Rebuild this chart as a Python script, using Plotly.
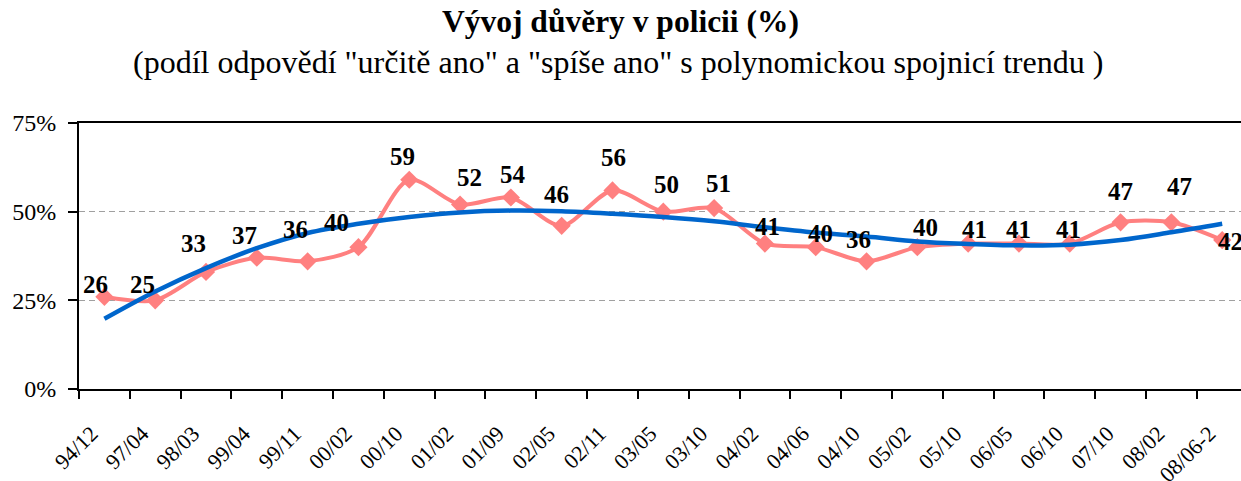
import plotly.graph_objects as go

categories = ["94/12", "97/04", "98/03", "99/04", "99/11", "00/02", "00/10", "01/02",
              "01/09", "02/05", "02/11", "03/05", "03/10", "04/02", "04/06", "04/10",
              "05/02", "05/10", "06/05", "06/10", "07/10", "08/02", "08/06-2"]
values = [26, 25, 33, 37, 36, 40, 59, 52, 54, 46, 56, 50, 51, 41, 40, 36, 40, 41, 41, 41, 47, 47, 42]
# polynomial trend line
trend = [19.8, 27.5, 34.1, 39.7, 44.0, 46.6, 48.5, 49.8, 50.3, 50.1, 49.4, 48.5,
         47.3, 45.6, 44.1, 43.0, 41.6, 40.9, 40.5, 40.7, 42.0, 44.2, 46.6]
y_ticks = [0, 25, 50, 75]
y_tick_text = ["0%", "25%", "50%", "75%"]

# label offsets in pixels (dx right, dy up)
label_dx = [-9, -13, -13, -12, -12, -22, -7, 9, 2, -5, 1, 3, 4, 3, 5, -8, 8, 6, 0, -1, 0, 8, 8]
label_dy = [12, 16, 28, 22, 32, 25, 23, 27, 23, 31, 33, 27, 25, 17, 14, 22, 20, 14, 14, 14, 31, 36, -1]

SERIF = "Liberation Serif"
W, H = 1241, 481
ML, MR, MT, MB = 79, 0, 123, 92
PLOT_W = W - ML - MR
PLOT_H = H - MT - MB

fig = go.Figure()
fig.add_trace(go.Scatter(
    x=categories, y=values, mode="lines+markers",
    line=dict(color="#FF8080", width=4, shape="spline", smoothing=0.8),
    marker=dict(symbol="diamond", size=14, color="#FF8080"),
    showlegend=False, hoverinfo="x+y"))
fig.add_trace(go.Scatter(
    x=categories, y=trend, mode="lines",
    line=dict(color="#0066CC", width=4.5, shape="spline", smoothing=1.0),
    showlegend=False, hoverinfo="skip"))

annotations = []
for c, v, dx, dy in zip(categories, values, label_dx, label_dy):
    annotations.append(dict(x=c, y=v, xref="x", yref="y", text="<b>%d</b>" % v, showarrow=False,
                            xshift=dx, yshift=dy,
                            font=dict(family=SERIF, size=25, color="black")))
annotations.append(dict(x=(620.5 - ML) / PLOT_W, y=1 + 121 / PLOT_H, xref="paper", yref="paper",
                        xanchor="center", yanchor="top", showarrow=False,
                        text="<b>Vývoj důvěry v policii (%)</b>",
                        font=dict(family=SERIF, size=31.5, color="black")))
annotations.append(dict(x=(618 - ML) / PLOT_W, y=1 + 81 / PLOT_H, xref="paper", yref="paper",
                        xanchor="center", yanchor="top", showarrow=False,
                        text="(podíl odpovědí \"určitě ano\" a \"spíše ano\" s polynomickou spojnicí trendu )",
                        font=dict(family=SERIF, size=32, color="black")))

fig.update_layout(
    width=W, height=H,
    margin=dict(l=ML, r=MR, t=MT, b=MB, autoexpand=False),
    paper_bgcolor="white", plot_bgcolor="white",
    annotations=annotations,
    font=dict(family=SERIF, color="black"),
)
fig.update_xaxes(
    type="category", categoryorder="array", categoryarray=categories,
    range=[-0.5, 22.37], tickangle=-45, tickson="boundaries", automargin=False,
    ticks="outside", ticklen=8, tickwidth=2, tickcolor="black",
    ticklabelstandoff=21, ticklabelshift=-13,
    showline=True, linewidth=2, linecolor="black", mirror=True,
    showgrid=False, tickfont=dict(family=SERIF, size=22, color="black"),
)
fig.update_yaxes(
    range=[0, 75], tickmode="array", tickvals=y_ticks, ticktext=y_tick_text, automargin=False,
    ticks="outside", ticklen=9, tickwidth=2, tickcolor="black", ticklabelstandoff=7,
    showline=True, linewidth=2, linecolor="black",
    showgrid=True, gridcolor="#A0A0A0", gridwidth=1, griddash="6px,4px",
    zeroline=False, tickfont=dict(family=SERIF, size=24, color="black"),
)
fig.write_html("out.html", config={"displayModeBar": False},
               post_script="document.body.style.margin='0';")
